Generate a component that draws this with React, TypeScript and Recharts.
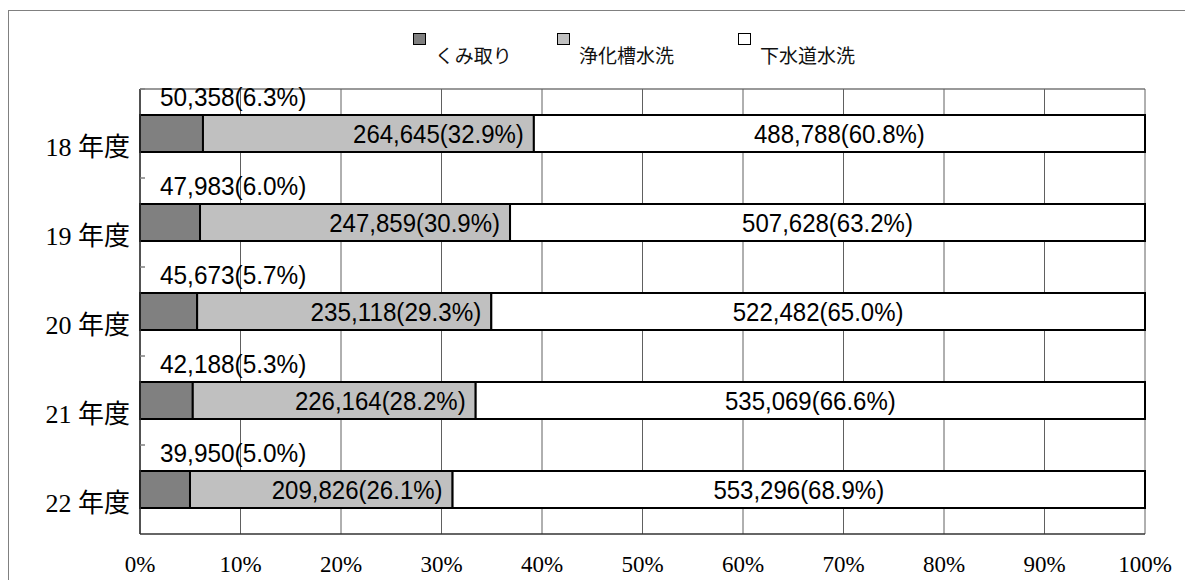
import React from 'react';
import { BarChart, Bar, XAxis, YAxis, CartesianGrid, LabelList } from 'recharts';

const years = ['18 年度', '19 年度', '20 年度', '21 年度', '22 年度'];
const kumitori = [50358, 47983, 45673, 42188, 39950];
const jokaso = [264645, 247859, 235118, 226164, 209826];
const gesuido = [488788, 507628, 522482, 535069, 553296];
const kumitoriPct = [6.3, 6.0, 5.7, 5.3, 5.0];
const jokasoPct = [32.9, 30.9, 29.3, 28.2, 26.1];
const gesuidoPct = [60.8, 63.2, 65.0, 66.6, 68.9];
const xTicks = [0, 0.1, 0.2, 0.3, 0.4, 0.5, 0.6, 0.7, 0.8, 0.9, 1];

const SERIES = [
  { key: 'kumitori', name: 'くみ取り', color: '#808080' },
  { key: 'jokaso', name: '浄化槽水洗', color: '#c0c0c0' },
  { key: 'gesuido', name: '下水道水洗', color: '#ffffff' },
];
const LEGEND_LEFT = [413, 557, 738];

const fmt = (n: number, p: number) => `${n.toLocaleString('en-US')}(${p.toFixed(1)}%)`;

const data = years.map((year, i) => ({
  year,
  kumitori: kumitori[i],
  jokaso: jokaso[i],
  gesuido: gesuido[i],
  lab1: fmt(kumitori[i], kumitoriPct[i]),
  lab2: fmt(jokaso[i], jokasoPct[i]),
  lab3: fmt(gesuido[i], gesuidoPct[i]),
}));

const LABEL_FONT = '"Liberation Sans", "DejaVu Sans", sans-serif';
const SERIF = '"Liberation Serif", "Noto Sans CJK JP", serif';
const CHART_W = 1185;
const CHART_H = 580;
const MARGIN = { top: 89, right: 40, bottom: 16, left: 40 };
const Y_AXIS_W = 100;

function DataLabel({ x, y, width, height, value, mode }: any) {
  const s = String(value);
  const len = s.length * 12.2;
  let tx = x + width / 2;
  let ty = y + height / 2;
  let anchor: 'start' | 'middle' | 'end' = 'middle';
  if (mode === 'above') {
    tx = x + 20;
    ty = y - 18;
    anchor = 'start';
  } else if (mode === 'end') {
    tx = x + width - 10;
    anchor = 'end';
  }
  return (
    <text
      x={tx}
      y={ty}
      textAnchor={anchor}
      dominantBaseline="central"
      fontFamily={LABEL_FONT}
      fontSize={26}
      fill="#000"
      textLength={len}
      lengthAdjust="spacingAndGlyphs"
    >
      {s}
    </text>
  );
}

function YearTick({ x, y, payload }: any) {
  const half = payload?.offset || 44.5;
  return (
    <g>
      <line x1={x + 8} x2={x + 13} y1={y - half} y2={y - half} stroke="#808080" strokeWidth={1.5} />
      <text x={x - 2} y={y + 14} textAnchor="end" dominantBaseline="central" fontFamily={SERIF} fontSize={26} fill="#000">
        {payload.value}
      </text>
    </g>
  );
}

function PctTick({ x, y, payload }: any) {
  return (
    <text x={x} y={y + 22} textAnchor="middle" dominantBaseline="central" fontFamily={SERIF} fontSize={23} fill="#000">
      {`${Math.round(payload.value * 100)}%`}
    </text>
  );
}

function LegendBox() {
  return (
    <>
      {SERIES.map((s, i) => (
        <React.Fragment key={s.key}>
          <div
            style={{
              position: 'absolute',
              left: LEGEND_LEFT[i],
              top: 33,
              width: 11,
              height: 10,
              background: s.color,
              border: '1.5px solid #000',
            }}
          />
          <div
            style={{
              position: 'absolute',
              left: LEGEND_LEFT[i] + 22,
              top: 43,
              fontFamily: '"Noto Sans CJK JP", sans-serif',
              fontSize: 19,
              lineHeight: '24px',
              color: '#111',
              whiteSpace: 'nowrap',
            }}
          >
            {s.name}
          </div>
        </React.Fragment>
      ))}
    </>
  );
}

export default function App() {
  const plotLeft = MARGIN.left + Y_AXIS_W;
  const plotRight = CHART_W - MARGIN.right;
  return (
    <div style={{ position: 'absolute', left: 0, top: 0, width: CHART_W, height: CHART_H, overflow: 'hidden', background: '#fff' }}>
      <div
        style={{
          position: 'absolute',
          left: 8,
          top: 10,
          width: 1200,
          height: 600,
          border: '1.5px solid #808080',
        }}
      />
      {/* top edge of the plot frame, under the labels */}
      <div
        style={{
          position: 'absolute',
          left: plotLeft,
          top: MARGIN.top - 1,
          width: plotRight - plotLeft,
          height: 1.5,
          background: '#999',
        }}
      />
      <div style={{ position: 'absolute', left: 0, top: 0 }}>
        <BarChart
          width={CHART_W}
          height={CHART_H}
          data={data}
          layout="vertical"
          stackOffset="expand"
          margin={MARGIN}
        >
          <CartesianGrid horizontal={false} stroke="#606060" strokeWidth={1} />
          <XAxis
            type="number"
            domain={[0, 1]}
            ticks={xTicks}
            tick={<PctTick />}
            tickLine={false}
            axisLine={{ stroke: '#333', strokeWidth: 1.5 }}
            height={30}
            interval={0}
          />
          <YAxis
            type="category"
            dataKey="year"
            width={Y_AXIS_W}
            tick={<YearTick />}
            tickLine={false}
            axisLine={{ stroke: '#333', strokeWidth: 1.5 }}
            interval={0}
          />
          {SERIES.map((s, i) => (
            <Bar
              key={s.key}
              dataKey={s.key}
              name={s.name}
              stackId="a"
              fill={s.color}
              stroke="#000"
              strokeWidth={2}
              barSize={37}
              isAnimationActive={false}
            >
              <LabelList
                dataKey={`lab${i + 1}`}
                content={(p: any) => <DataLabel {...p} mode={i === 0 ? 'above' : i === 1 ? 'end' : 'middle'} />}
              />
            </Bar>
          ))}
        </BarChart>
      </div>
      <LegendBox />
    </div>
  );
}
